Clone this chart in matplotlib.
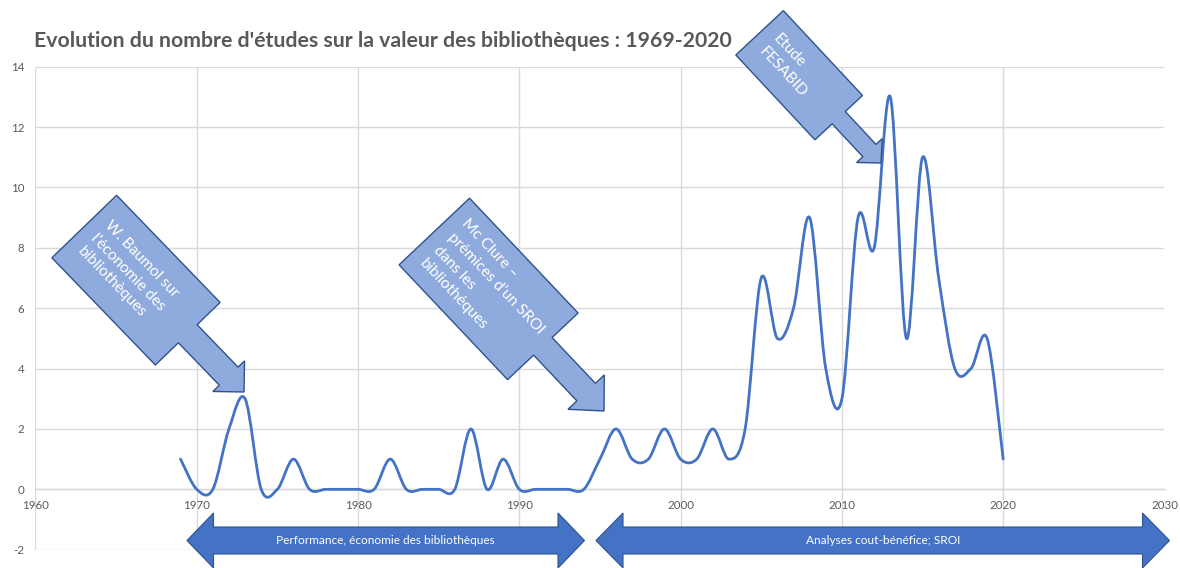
import numpy as np
import matplotlib
matplotlib.use("Agg")
import matplotlib.pyplot as plt
from matplotlib.path import Path
from matplotlib.patches import PathPatch, Polygon

plt.rcParams["axes.unicode_minus"] = False

# ---------------- data ----------------
years = list(range(1969, 2021))
counts = [1, 0, 0, 2, 3, 0, 0, 1, 0, 0,
          0, 0, 0, 1, 0, 0, 0, 0, 2, 0,
          1, 0, 0, 0, 0, 0, 1, 2, 1, 1,
          2, 1, 1, 2, 1, 2, 7, 5, 6, 9,
          4, 3, 9, 8, 13, 5, 11, 7, 4, 4,
          5, 1]
x_ticks = [1960, 1970, 1980, 1990, 2000, 2010, 2020, 2030]
y_ticks = [-2, 0, 2, 4, 6, 8, 10, 12, 14]
title = "Evolution du nombre d'études sur la valeur des bibliothèques : 1969-2020"
callout_texts = ["W. Baumol sur\nl’économie des\nbibliothèques",
                 "Mc Clure –\nprémices d’un SROI\ndans les\nbibliothéques",
                 "Etude\nFESABID"]
period_texts = ["Performance, économie des bibliothèques",
                "Analyses cout-bénéfice; SROI"]

FONT = "Lato"
W, H = 1180, 568
GRID = "#D9D9D9"
TXT = "#595959"
LINE = "#4472C4"

fig = plt.figure(figsize=(W / 100, H / 100), dpi=100)
ax = fig.add_axes([35.4 / W, (H - 549.7) / H, 1129.1 / W, (549.7 - 66.7) / H])
ax.set_xlim(x_ticks[0], x_ticks[-1])
ax.set_ylim(y_ticks[0], y_ticks[-1])
ax.set_xticks(x_ticks)
ax.set_yticks(y_ticks)
ax.grid(True, color=GRID, lw=1.0)
ax.set_axisbelow(True)
for s in ["top", "right", "left"]:
    ax.spines[s].set_visible(False)
ax.spines["bottom"].set_position(("data", 0))
ax.spines["bottom"].set_color(GRID)
ax.spines["bottom"].set_linewidth(1.0)
ax.tick_params(axis="both", length=0, labelsize=8.3, labelcolor=TXT)
ax.tick_params(axis="x", pad=8)
ax.tick_params(axis="y", pad=8)
for lab in ax.get_xticklabels() + ax.get_yticklabels():
    lab.set_family(FONT)

# smoothed line (Excel-like Catmull-Rom Bezier through the data points)
xs = np.array(years, float)
ys = np.array(counts, float)
n = len(xs)
P = np.column_stack([xs, ys])
verts = [tuple(P[0])]
codes = [Path.MOVETO]
for i in range(n - 1):
    pm = P[max(i - 1, 0)]
    p0 = P[i]
    p1 = P[i + 1]
    p2 = P[min(i + 2, n - 1)]
    c1 = p0 + (p1 - pm) / 6.0
    c2 = p1 - (p2 - p0) / 6.0
    verts += [tuple(c1), tuple(c2), tuple(p1)]
    codes += [Path.CURVE4] * 3
ax.add_patch(PathPatch(Path(verts, codes), fill=False, edgecolor=LINE, lw=2.0,
                       joinstyle="round", capstyle="round", zorder=3))


def to_fig(px, py):
    return (px / W, (H - py) / H)


def callout(tip, theta, box_len, box_h, shaft_len, shaft_w, head_len, head_w, text, fs, pad=13):
    t = np.radians(theta)
    u = np.array([np.cos(t), np.sin(t)])
    v = np.array([-np.sin(t), np.cos(t)])
    a = head_len
    b = head_len + shaft_len
    c = b + box_len
    local = [(0, 0), (-a, head_w / 2), (-a, shaft_w / 2), (-b, shaft_w / 2),
             (-b, box_h / 2), (-c, box_h / 2), (-c, -box_h / 2), (-b, -box_h / 2),
             (-b, -shaft_w / 2), (-a, -shaft_w / 2), (-a, -head_w / 2)]
    tip = np.array(tip, float)
    pts = [to_fig(*(tip + lx * u + ly * v)) for lx, ly in local]
    fig.add_artist(Polygon(pts, closed=True, facecolor="#8FAADC", edgecolor="#2F528F",
                           lw=1.0, transform=fig.transFigure, zorder=5))
    anchor = tip - (c - pad) * u
    fig.text(*to_fig(*anchor), text, rotation=-theta, rotation_mode="anchor",
             ha="left", va="center", multialignment="left", linespacing=1.45,
             color="white", fontsize=fs, family=FONT, zorder=6)


callout((244, 392), 46, 149, 90, 59, 26, 22, 44, callout_texts[0], 11.2)
callout((604, 411), 46.6, 158, 97, 63, 25.5, 26, 50, callout_texts[1], 11.2)
callout((881, 163), 47, 116, 65, 45, 18, 17, 35, callout_texts[2], 11.2)


def double_arrow(x0, x1, yc, hl, hh, bh, text, fs):
    pts = [(x0, yc), (x0 + hl, yc - hh), (x0 + hl, yc - bh), (x1 - hl, yc - bh),
           (x1 - hl, yc - hh), (x1, yc), (x1 - hl, yc + hh), (x1 - hl, yc + bh),
           (x0 + hl, yc + bh), (x0 + hl, yc + hh)]
    fig.add_artist(Polygon([to_fig(*p) for p in pts], closed=True, facecolor="#4472C4",
                           edgecolor="#2F528F", lw=0.8, transform=fig.transFigure, zorder=5))
    fig.text(*to_fig((x0 + x1) / 2, yc), text, ha="center", va="center", color="white",
             fontsize=fs, family=FONT, zorder=6)


double_arrow(187, 584.5, 540.5, 26.5, 27.5, 13.5, period_texts[0], 8.6)
double_arrow(596, 1169.5, 540.5, 27, 27.5, 13.5, period_texts[1], 8.6)

# title, fitted to the reference width
tt = fig.text(34 / W, (H - 47.3) / H, title, fontsize=14, fontweight="bold",
              color=TXT, family=FONT, va="baseline", ha="left")
r = fig.canvas.get_renderer()
wpx = tt.get_window_extent(r).width
tt.set_fontsize(14 * 703.0 / wpx)

fig.savefig("out.png", dpi=100)
